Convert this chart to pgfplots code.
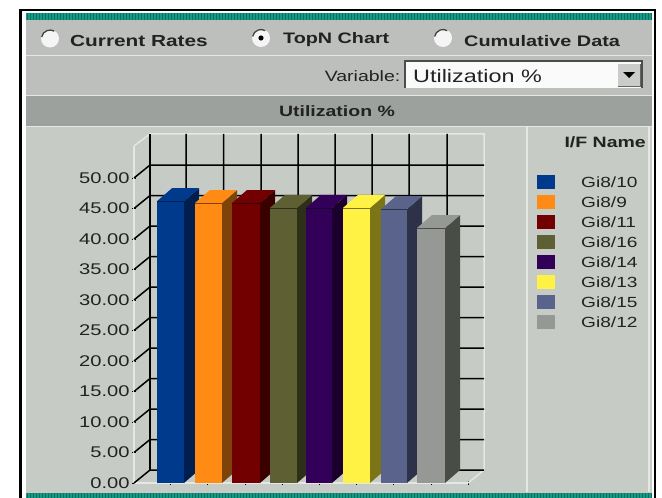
\documentclass[border=0pt]{standalone}
\usepackage{pgfplots}
\pgfplotsset{compat=1.18}
\usepackage{fontspec}
\setmainfont{Liberation Sans}
\newfontfamily\wide[FakeStretch=1.3]{Liberation Sans}
\definecolor{panel}{HTML}{C6CBC5}
\definecolor{hdr}{HTML}{BDBFBC}
\definecolor{band}{HTML}{9DA19D}
\definecolor{teal1}{HTML}{159A85}
\definecolor{teal2}{HTML}{0B6F60}
\definecolor{sep}{HTML}{E4E7E2}
\definecolor{txt}{HTML}{222222}
\definecolor{cA}{HTML}{003A8C}\definecolor{sA}{HTML}{001F4F}
\definecolor{cB}{HTML}{FF8A14}\definecolor{sB}{HTML}{7D4308}
\definecolor{cC}{HTML}{720000}\definecolor{sC}{HTML}{3A0000}
\definecolor{cD}{HTML}{5E6033}\definecolor{sD}{HTML}{2E2F18}
\definecolor{cE}{HTML}{320058}\definecolor{sE}{HTML}{1B002E}
\definecolor{cF}{HTML}{FFF244}\definecolor{sF}{HTML}{7C7518}
\definecolor{cG}{HTML}{5A638C}\definecolor{sG}{HTML}{2D3248}
\definecolor{cH}{HTML}{969896}\definecolor{sH}{HTML}{484D46}
\begin{document}
\begin{tikzpicture}[x=1pt,y=-1pt]
\path[use as bounding box] (0,0) rectangle (662,498);
\clip (0,0) rectangle (662,498);
\fill[white] (0,0) rectangle (662,498);
% frame
\fill[black] (19,8.5) rectangle (656,498);
\fill[white] (22,11) rectangle (654,498);
\fill[panel] (26,20) rectangle (652,498);
\fill[teal1] (26,12.5) rectangle (652,20);
\fill[teal1] (26,493) rectangle (652,498);
\foreach \sx in {27,30,...,651}{
  \draw[teal2,line width=1pt] (\sx,12.5) -- (\sx,20);
  \draw[teal2,line width=1pt] (\sx,493) -- (\sx,498);
}
\fill[hdr] (26,20) rectangle (652,95);
\fill[band] (26,96) rectangle (652,126);
\draw[sep,line width=1.5pt] (26,55.5) -- (652,55.5);
\draw[sep,line width=1.5pt] (26,95.5) -- (652,95.5);
\draw[sep,line width=1.5pt] (26,126.5) -- (652,126.5);
\draw[sep,line width=1.5pt] (527,127) -- (527,492);
\draw[sep,line width=1.5pt] (649,127) -- (649,492);
% radios
\foreach \cx/\cy in {50/38.5,261/38,443/38}{
  \fill[white!92!gray] (\cx,\cy) circle (9);
  \draw[black!75,line width=1.3pt] (\cx,\cy) ++(190:8.5) arc[start angle=190,end angle=300,radius=8.5];
}
\fill[black] (261,38) circle (2.6);
\node[anchor=west,inner sep=0,font=\wide\bfseries\fontsize{16}{16}\selectfont,text=txt] at (70,41) {Current Rates};
\node[anchor=west,inner sep=0,font=\wide\bfseries\fontsize{15.2}{16}\selectfont,text=txt] at (283,40) {TopN Chart};
\node[anchor=west,inner sep=0,font=\wide\bfseries\fontsize{15.3}{16}\selectfont,text=txt] at (464,41) {Cumulative Data};
% variable
\node[anchor=east,inner sep=0,font=\wide\fontsize{15}{15}\selectfont,text=txt] at (400.5,76) {Variable:};
\fill[white!90!panel] (405,61) rectangle (642,88);
\draw[black!70,line width=1.3pt] (405,88) -- (405,61) -- (642,61) -- (642,88);
\fill[hdr!80!white] (618,64) rectangle (640,86);
\draw[black!60,line width=1pt] (618,86) -- (640,86) -- (640,64);
\fill[black] (623,72) -- (635,72) -- (629,78) -- cycle;
\node[anchor=west,inner sep=0,font=\wide\fontsize{18}{18}\selectfont,text=txt] at (413,76) {Utilization \%};
% title
\node[inner sep=0,font=\wide\bfseries\fontsize{15}{15}\selectfont,text=txt] at (337,111) {Utilization \%};
\node[anchor=east,inner sep=0,font=\wide\bfseries\fontsize{15}{15}\selectfont,text=txt] at (646,142) {I/F Name};
% legend
\foreach \yy/\cc in {182/cA,202/cB,222/cC,242/cD,262/cE,282/cF,302/cG,322/cH}{
  \fill[\cc] (537,\yy-7) rectangle (555,\yy+7);
}
\foreach \yy/\nn in {182/Gi8\slash 10,202/Gi8\slash 9,222/Gi8\slash 11,242/Gi8\slash 16,262/Gi8\slash 14,282/Gi8\slash 13,302/Gi8\slash 15,322/Gi8\slash 12}{
  \node[anchor=west,inner sep=0,font=\wide\fontsize{14.7}{15}\selectfont,text=txt] at (581,\yy) {\nn};
}
\begin{axis}[
  at={(134pt,-483pt)},anchor=south west,
  scale only axis,width=334pt,height=337pt,
  xmin=134,xmax=468,ymin=0,ymax=55.25,
  axis y line=left,axis x line=bottom,
  axis line style={-,sep,line width=1.5pt},
  clip=false,
  ytick={0,5,...,50},
  xtick={170,207.5,245,282,319,356,393.5,431,468},
  xticklabels={},
  tick style={black,line width=1pt},
  major tick length=3.5pt,
  y tick label style={font=\wide\fontsize{15.5}{15}\selectfont,text=txt,inner sep=2.5pt},
  yticklabel style={/pgf/number format/.cd,fixed,fixed zerofill,precision=2,assume math mode=true},
  unbounded coords=jump,
]
% wall outline
\addplot[sep,line width=1.5pt] coordinates {(134,55.25)(150,57.25)(484,57.25)(484,2.13)(468,0)};
% wall grid
\addplot[black,line width=1.5pt] coordinates {
(150,2.13)(484,2.13)(nan,nan)(150,7.13)(484,7.13)(nan,nan)(150,12.13)(484,12.13)(nan,nan)
(150,17.13)(484,17.13)(nan,nan)(150,22.13)(484,22.13)(nan,nan)(150,27.13)(484,27.13)(nan,nan)
(150,32.13)(484,32.13)(nan,nan)(150,37.13)(484,37.13)(nan,nan)(150,42.13)(484,42.13)(nan,nan)
(150,47.13)(484,47.13)(nan,nan)(150,52.13)(484,52.13)(nan,nan)
(186,2.13)(186,57.25)(nan,nan)(223.5,2.13)(223.5,57.25)(nan,nan)(261,2.13)(261,57.25)(nan,nan)
(298,2.13)(298,57.25)(nan,nan)(335,2.13)(335,57.25)(nan,nan)(372,2.13)(372,57.25)(nan,nan)
(409,2.13)(409,57.25)(nan,nan)(447,2.13)(447,57.25)(nan,nan)
(134,0)(150,2.13)(nan,nan)(134,5)(150,7.13)(nan,nan)(134,10)(150,12.13)(nan,nan)
(134,15)(150,17.13)(nan,nan)(134,20)(150,22.13)(nan,nan)(134,25)(150,27.13)(nan,nan)
(134,30)(150,32.13)(nan,nan)(134,35)(150,37.13)(nan,nan)(134,40)(150,42.13)(nan,nan)
(134,45)(150,47.13)(nan,nan)(134,50)(150,52.13)};
\addplot[black,line width=1.8pt] coordinates {(150,2.13)(150,57.25)};
% bars: side, top, front, edge
\addplot[fill=sA,draw=none] coordinates {(184,0)(199,2.13)(199,48.33)(184,46.2)} --cycle;
\addplot[fill=cA,draw=none] coordinates {(157,46.2)(172,48.33)(199,48.33)(184,46.2)} --cycle;
\addplot[fill=cA,draw=none] coordinates {(157,0)(184,0)(184,46.2)(157,46.2)} --cycle;
\addplot[sA,line width=0.8pt] coordinates {(157,46.2)(184,46.2)};
\addplot[fill=sB,draw=none] coordinates {(222,0)(237,2.13)(237,48.03)(222,45.9)} --cycle;
\addplot[fill=cB,draw=none] coordinates {(195,45.9)(210,48.03)(237,48.03)(222,45.9)} --cycle;
\addplot[fill=cB,draw=none] coordinates {(195,0)(222,0)(222,45.9)(195,45.9)} --cycle;
\addplot[sB,line width=0.8pt] coordinates {(195,45.9)(222,45.9)};
\addplot[fill=sC,draw=none] coordinates {(260,0)(275,2.13)(275,48.03)(260,45.9)} --cycle;
\addplot[fill=cC,draw=none] coordinates {(232,45.9)(247,48.03)(275,48.03)(260,45.9)} --cycle;
\addplot[fill=cC,draw=none] coordinates {(232,0)(260,0)(260,45.9)(232,45.9)} --cycle;
\addplot[sC,line width=0.8pt] coordinates {(232,45.9)(260,45.9)};
\addplot[fill=sD,draw=none] coordinates {(297,0)(312,2.13)(312,47.23)(297,45.1)} --cycle;
\addplot[fill=cD,draw=none] coordinates {(270,45.1)(285,47.23)(312,47.23)(297,45.1)} --cycle;
\addplot[fill=cD,draw=none] coordinates {(270,0)(297,0)(297,45.1)(270,45.1)} --cycle;
\addplot[sD,line width=0.8pt] coordinates {(270,45.1)(297,45.1)};
\addplot[fill=sE,draw=none] coordinates {(332,0)(347,2.13)(347,47.23)(332,45.1)} --cycle;
\addplot[fill=cE,draw=none] coordinates {(306,45.1)(321,47.23)(347,47.23)(332,45.1)} --cycle;
\addplot[fill=cE,draw=none] coordinates {(306,0)(332,0)(332,45.1)(306,45.1)} --cycle;
\addplot[sE,line width=0.8pt] coordinates {(306,45.1)(332,45.1)};
\addplot[fill=sF,draw=none] coordinates {(370,0)(385,2.13)(385,47.23)(370,45.1)} --cycle;
\addplot[fill=cF,draw=none] coordinates {(343,45.1)(358,47.23)(385,47.23)(370,45.1)} --cycle;
\addplot[fill=cF,draw=none] coordinates {(343,0)(370,0)(370,45.1)(343,45.1)} --cycle;
\addplot[sF,line width=0.8pt] coordinates {(343,45.1)(370,45.1)};
\addplot[fill=sG,draw=none] coordinates {(407,0)(422,2.13)(422,47.03)(407,44.9)} --cycle;
\addplot[fill=cG,draw=none] coordinates {(381,44.9)(396,47.03)(422,47.03)(407,44.9)} --cycle;
\addplot[fill=cG,draw=none] coordinates {(381,0)(407,0)(407,44.9)(381,44.9)} --cycle;
\addplot[sG,line width=0.8pt] coordinates {(381,44.9)(407,44.9)};
\addplot[fill=sH,draw=none] coordinates {(445,0)(460,2.13)(460,43.93)(445,41.8)} --cycle;
\addplot[fill=cH,draw=none] coordinates {(417,41.8)(432,43.93)(460,43.93)(445,41.8)} --cycle;
\addplot[fill=cH,draw=none] coordinates {(417,0)(445,0)(445,41.8)(417,41.8)} --cycle;
\addplot[sH,line width=0.8pt] coordinates {(417,41.8)(445,41.8)};
\end{axis}
\end{tikzpicture}
\end{document}
